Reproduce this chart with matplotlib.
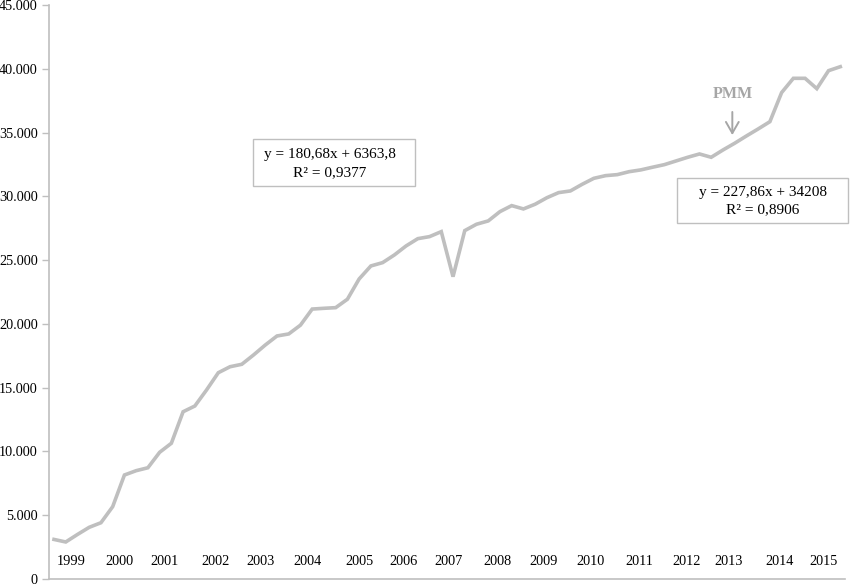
import numpy as np
import matplotlib
matplotlib.use("Agg")
import matplotlib.pyplot as plt
from matplotlib.patches import Rectangle
from matplotlib.ticker import FuncFormatter

plt.rcParams["font.family"] = ["Liberation Serif", "DejaVu Serif"]

# quarterly values, 1999 Q1 .. 2015 Q4
values = [3100, 2900, 3490, 4050, 4410, 5670, 8150, 8490,
          8720, 9930, 10640, 13110, 13560, 14820, 16170, 16640,
          16830, 17560, 18340, 19050, 19210, 19900, 21160, 21220,
          21270, 21930, 23520, 24540, 24800, 25400, 26110, 26680,
          26840, 27230, 23700, 27310, 27810, 28070, 28800, 29270,
          29010, 29380, 29890, 30290, 30420, 30940, 31410, 31620,
          31700, 31930, 32070, 32280, 32480, 32770, 33060, 33320,
          33060, 33630, 34160, 34730, 35280, 35850, 38130, 39250,
          39250, 38440, 39850, 40160]

years = [str(y) for y in range(1999, 2016)]
year_pos = [1.5, 5.6, 9.45, 13.8, 17.6, 21.6, 26.0, 29.8, 33.6,
            37.8, 41.7, 45.7, 49.9, 53.9, 57.5, 61.8, 65.6]

eq_left = ["y = 180,68x + 6363,8", "R² = 0,9377"]
eq_right = ["y = 227,86x + 34208", "R² = 0,8906"]

grey = "#bfbfbf"

fig = plt.figure(figsize=(8.5, 5.85), dpi=100)
ax = fig.add_axes([0.0576, 0.0103, 0.9365, 0.9812])

x = np.arange(len(values))
ax.plot(x, values, color=grey, lw=2.6, solid_joinstyle="miter")

ax.set_xlim(-0.43, 67.4)
ax.set_ylim(0, 45000)
ax.set_yticks(np.arange(0, 45001, 5000))
ax.yaxis.set_major_formatter(FuncFormatter(lambda v, p: f"{int(v):,}".replace(",", ".")))
ax.set_xticks([])
ax.tick_params(axis="y", length=5, width=1, color=grey, labelsize=10.3, pad=3)

for s in ["top", "right"]:
    ax.spines[s].set_visible(False)
for s in ["left", "bottom"]:
    ax.spines[s].set_color(grey)
    ax.spines[s].set_linewidth(1.2)

# year labels sit just above the x axis
for lab, pos in zip(years, year_pos):
    ax.text(pos, 0.03, lab, transform=ax.get_xaxis_transform(),
            ha="center", va="center", fontsize=10.3)

# trend boxes
ax.add_patch(Rectangle((0.2563, 0.6847), 0.2035, 0.0819, transform=ax.transAxes,
                       fill=False, edgecolor=grey, lw=1))
ax.text(0.353, 0.7387, eq_left[0], transform=ax.transAxes, ha="center", va="center", fontsize=11)
ax.text(0.353, 0.7073, eq_left[1], transform=ax.transAxes, ha="center", va="center", fontsize=11)

ax.add_patch(Rectangle((0.789, 0.620), 0.2148, 0.0784, transform=ax.transAxes,
                       fill=False, edgecolor=grey, lw=1, clip_on=False))
ax.text(0.897, 0.6725, eq_right[0], transform=ax.transAxes, ha="center", va="center", fontsize=11)
ax.text(0.897, 0.6429, eq_right[1], transform=ax.transAxes, ha="center", va="center", fontsize=11)

# PMM marker
ax.annotate("PMM", xy=(57.8, 34800), xytext=(57.8, 38000),
            ha="center", va="center", fontsize=11.5, fontweight="bold", color="#a6a6a6",
            arrowprops=dict(arrowstyle="->,head_length=0.7,head_width=0.4",
                            color="#a6a6a6", lw=1.4, shrinkA=5, shrinkB=0))

fig.savefig("out.png", dpi=100)
